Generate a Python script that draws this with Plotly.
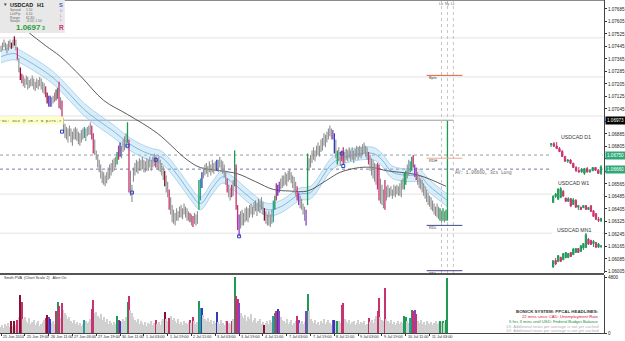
import plotly.graph_objects as go

# ------------------------------------------------------------------ data
# H1 USDCAD bars (index 0 = 25 Jun 2014 03:00), high / low prices
HIGH = [
 1.0745,1.0747,1.0749,1.0747,1.0746,1.0748,1.0749,1.0747,1.0749,1.0751,1.0749,
 1.0744,1.0737,1.0731,1.0727,1.0726,1.0724,1.0726,1.0725,1.0723,1.0724,
 1.0726,1.0724,1.0722,1.0724,1.0723,1.0725,1.0724,1.0722,1.0721,1.0719,
 1.0715,1.0713,1.0713,1.0712,1.0713,1.0715,1.0717,1.0718,1.0722,1.0712,
 1.0710,1.0699,1.0695,1.0693,1.0692,1.0694,1.0692,1.0690,1.0692,1.0693,
 1.0692,1.0690,1.0689,1.0691,1.0692,1.0693,1.0692,1.0693,1.0694,1.0696,
 1.0694,1.0689,1.0685,1.0678,1.0675,1.0672,1.0669,1.0665,1.0664,1.0662,
 1.0664,1.0667,1.0669,1.0670,1.0672,1.0673,1.0674,1.0677,1.0681,1.0683,
 1.0681,1.0685,1.0687,1.0689,1.0696,1.0685,1.0665,1.0656,1.0667,1.0670,
 1.0672,1.0671,1.0673,1.0672,1.0674,1.0672,1.0671,1.0673,1.0672,1.0674,
 1.0672,1.0674,1.0676,1.0674,1.0673,1.0674,1.0672,1.0670,1.0668,1.0665,
 1.0662,1.0658,1.0653,1.0648,1.0643,1.0640,1.0638,1.0641,1.0639,1.0642,
 1.0643,1.0641,1.0644,1.0642,1.0641,1.0639,1.0638,1.0637,1.0636,1.0638,
 1.0637,1.0639,1.0659,1.0660,1.0664,1.0667,1.0669,1.0670,1.0668,1.0671,
 1.0669,1.0672,1.0670,1.0671,1.0672,1.0672,1.0674,1.0672,1.0671,1.0669,
 1.0665,1.0660,1.0656,1.0654,1.0656,1.0659,1.0678,1.0669,1.0643,1.0637,
 1.0639,1.0640,1.0638,1.0641,1.0642,1.0641,1.0643,1.0644,1.0642,1.0645,
 1.0646,1.0644,1.0647,1.0646,1.0648,1.0645,1.0641,1.0639,1.0637,1.0639,
 1.0637,1.0640,1.0646,1.0649,1.0657,1.0656,1.0658,1.0660,1.0662,1.0662,
 1.0664,1.0663,1.0665,1.0666,1.0664,1.0662,1.0661,1.0658,1.0655,1.0651,
 1.0649,1.0647,1.0644,1.0642,1.0640,1.0676,1.0673,1.0675,1.0678,1.0680,
 1.0678,1.0681,1.0683,1.0681,1.0685,1.0686,1.0689,1.0688,1.0690,1.0692,
 1.0694,1.0692,1.0691,1.0689,1.0685,1.0678,1.0680,1.0677,1.0678,1.0680,
 1.0677,1.0679,1.0678,1.0680,1.0678,1.0680,1.0678,1.0679,1.0681,1.0680,
 1.0681,1.0680,1.0682,1.0683,1.0681,1.0680,1.0677,1.0675,1.0673,1.0672,
 1.0670,1.0669,1.0670,1.0669,1.0660,1.0656,1.0653,1.0659,1.0655,1.0656,
 1.0654,1.0655,1.0653,1.0656,1.0655,1.0656,1.0655,1.0657,1.0659,1.0660,
 1.0664,1.0665,1.0669,1.0672,1.0671,1.0674,1.0675,1.0669,1.0667,1.0664,
 1.0662,1.0660,1.0659,1.0657,1.0655,1.0653,1.0651,1.0649,1.0648,1.0646,
 1.0644,1.0642,1.0644,1.0642,1.0641,1.0639,1.0641,1.0639,1.0640,1.0697,
]
LOW = [
 1.0741,1.0742,1.0744,1.0742,1.0740,1.0742,1.0744,1.0743,1.0744,1.0745,1.0742,
 1.0736,1.0728,1.0723,1.0721,1.0719,1.0718,1.0720,1.0717,1.0718,1.0719,
 1.0719,1.0717,1.0716,1.0718,1.0717,1.0719,1.0717,1.0715,1.0714,1.0712,
 1.0708,1.0706,1.0706,1.0706,1.0708,1.0709,1.0710,1.0711,1.0705,1.0704,
 1.0696,1.0690,1.0686,1.0685,1.0683,1.0687,1.0683,1.0681,1.0685,1.0685,
 1.0684,1.0682,1.0681,1.0683,1.0685,1.0686,1.0684,1.0687,1.0688,1.0688,
 1.0685,1.0676,1.0675,1.0672,1.0667,1.0664,1.0660,1.0657,1.0656,1.0655,
 1.0657,1.0659,1.0660,1.0662,1.0664,1.0665,1.0667,1.0669,1.0672,1.0674,
 1.0673,1.0677,1.0678,1.0680,1.0683,1.0651,1.0649,1.0645,1.0658,1.0662,
 1.0664,1.0663,1.0665,1.0665,1.0666,1.0664,1.0664,1.0665,1.0665,1.0667,
 1.0665,1.0667,1.0668,1.0667,1.0666,1.0665,1.0664,1.0662,1.0659,1.0655,
 1.0651,1.0648,1.0640,1.0637,1.0632,1.0631,1.0630,1.0633,1.0633,1.0635,
 1.0635,1.0634,1.0637,1.0635,1.0633,1.0633,1.0632,1.0630,1.0629,1.0631,
 1.0630,1.0631,1.0640,1.0646,1.0654,1.0660,1.0662,1.0663,1.0661,1.0664,
 1.0662,1.0664,1.0663,1.0665,1.0665,1.0664,1.0667,1.0665,1.0663,1.0661,
 1.0656,1.0651,1.0648,1.0646,1.0648,1.0649,1.0655,1.0640,1.0627,1.0623,
 1.0628,1.0630,1.0630,1.0632,1.0633,1.0632,1.0635,1.0637,1.0635,1.0637,
 1.0639,1.0636,1.0639,1.0638,1.0640,1.0637,1.0633,1.0631,1.0630,1.0630,
 1.0629,1.0631,1.0632,1.0640,1.0646,1.0649,1.0651,1.0653,1.0654,1.0655,
 1.0656,1.0655,1.0658,1.0659,1.0657,1.0654,1.0651,1.0649,1.0646,1.0643,
 1.0641,1.0640,1.0637,1.0633,1.0630,1.0643,1.0665,1.0667,1.0670,1.0672,
 1.0671,1.0674,1.0675,1.0674,1.0677,1.0678,1.0681,1.0680,1.0683,1.0685,
 1.0687,1.0685,1.0685,1.0676,1.0673,1.0669,1.0671,1.0668,1.0671,1.0669,
 1.0670,1.0672,1.0671,1.0673,1.0671,1.0672,1.0670,1.0672,1.0674,1.0672,
 1.0674,1.0673,1.0675,1.0676,1.0674,1.0672,1.0669,1.0665,1.0662,1.0660,
 1.0658,1.0656,1.0653,1.0646,1.0644,1.0643,1.0641,1.0640,1.0646,1.0648,
 1.0648,1.0649,1.0647,1.0649,1.0648,1.0650,1.0649,1.0649,1.0648,1.0653,
 1.0653,1.0656,1.0660,1.0662,1.0664,1.0665,1.0667,1.0661,1.0659,1.0656,
 1.0654,1.0653,1.0651,1.0649,1.0647,1.0645,1.0643,1.0642,1.0640,1.0639,
 1.0637,1.0636,1.0635,1.0634,1.0633,1.0632,1.0633,1.0632,1.0633,1.0633,
]
VOLUME = [
 520,690,430,770,600,860,520,1030,600,1030,690,1120,1380,3270,2670,
 1200,1380,1030,860,1290,770,950,1120,690,860,1030,600,770,950,1120,
 1290,1550,1380,1200,860,1030,770,1890,2670,2320,1290,2580,
 1980,1720,1550,1200,1380,1030,860,1120,770,950,690,860,600,770,
 1120,1030,860,950,1200,2060,2840,1720,
 1810,1460,1290,1630,1120,1380,950,1200,770,1030,860,690,950,770,
 1460,1120,1030,950,1200,1030,1380,2670,3180,1980,1720,
 1380,1120,950,1200,770,1030,860,690,950,600,860,770,1030,690,860,
 1120,770,950,690,1030,1200,1810,1200,1030,1290,
 1460,1120,1290,1030,860,1200,770,950,690,1030,860,770,950,
 1120,860,1380,1030,770,950,2750,2150,2150,
 1550,1200,1030,1290,950,1120,770,1030,860,
 1810,950,770,1120,860,690,1030,1030,860,770,1030,1200,4820,3180,2920,2580,
 1720,1460,1290,1550,1030,1380,1200,1630,950,1120,1290,860,1030,1200,770,950,
 690,860,1030,770,1120,950,
 1460,1720,1890,2060,1890,1380,1120,
 1030,860,1200,770,950,1120,690,860,1030,
 1460,1120,860,1030,770,950,1890,3350,1890,
 1200,1030,860,1120,770,950,690,1030,860,1200,770,950,1120,860,690,
 1120,1120,1030,1030,1030,860,2410,2580,
 1200,1030,860,1120,770,950,1030,690,860,1120,770,950,860,1030,690,770,
 1290,950,1120,860,1200,1460,1890,3010,1380,1120,1030,3870,
 1200,1030,860,1120,770,950,690,860,1030,770,950,860,
 1460,1380,1030,860,1290,1980,1890,1980,1630,
 1030,860,1120,770,950,690,1030,860,770,950,690,860,1030,770,950,
 1030,950,1030,860,1120,4730,
]
# Volume-spread colour classes (bar indices)
GREEN_BARS = [38, 78, 85, 133, 157, 184, 206, 226, 271, 272, 276, 295, 297, 299, 300]
CRIMSON_BARS = [11, 14, 30, 37, 39, 41, 61, 62, 79, 86, 104, 113, 127, 129, 152, 155,
                158, 159, 185, 199, 229, 230, 247, 253, 254, 258, 277, 279]
DARKRED_BARS = [7, 9, 13, 31, 110, 177]
BLUE_BARS = [33, 80, 135, 145, 186, 224]
PURPLE_BARS = [32, 160, 187, 200, 205, 223, 278]
TEAL_BARS = [56, 134, 183, 275]

# swing markers
MARK_IDX = [41, 85, 88, 104, 160, 229, 230]
MARK_PRICE = [1.0690, 1.0681, 1.0651, 1.0672, 1.0623, 1.0676, 1.0668]

# slow moving average
MA_IDX = [10, 18, 30, 40, 54, 69, 85, 105, 125, 134, 147, 159, 171, 183, 194, 206,
          219, 228, 241, 250, 259, 268, 281, 299]
MA_VAL = [1.0761, 1.0754, 1.0745, 1.0738, 1.0725, 1.0710, 1.0701, 1.0689, 1.0672, 1.0667,
          1.0665, 1.0663, 1.0658, 1.0653, 1.0652, 1.0652, 1.0659, 1.0664, 1.0667, 1.0667,
          1.0665, 1.0664, 1.0662, 1.0655]

# channel (centre line)
BAND_IDX = [0, 9, 13, 22, 33, 40, 47, 56, 67, 76, 85, 94, 102, 107, 112, 121, 127, 134,
            142, 149, 156, 167, 179, 188, 201, 208, 223, 232, 250, 256, 263, 275, 281, 288, 300]
BAND_MID = [1.0738, 1.0740, 1.0738, 1.0733, 1.0726, 1.0720, 1.0713, 1.0704, 1.0696, 1.0690,
            1.0683, 1.0678, 1.0675, 1.0674, 1.0670, 1.0659, 1.0651, 1.0644, 1.0654, 1.0661,
            1.0657, 1.0648, 1.0640, 1.0642, 1.0650, 1.0651, 1.0670, 1.0674, 1.0676, 1.0672,
            1.0664, 1.0662, 1.0662, 1.0655, 1.0646]
BAND_HALF = 0.0004

X_LABELS = ["25 Jun 2014", "25 Jun 19:00", "26 Jun 11:00", "27 Jun 03:00", "27 Jun 19:00",
            "30 Jun 11:00", "1 Jul 03:00", "1 Jul 19:00", "2 Jul 11:00", "3 Jul 03:00",
            "3 Jul 19:00", "4 Jul 11:00", "7 Jul 03:00", "7 Jul 19:00", "8 Jul 11:00",
            "9 Jul 03:00", "9 Jul 19:00", "10 Jul 11:00", "11 Jul 03:00"]
LABEL_EVERY = 16
PRICE_TICKS = [1.06005, 1.06085, 1.06165, 1.06245, 1.06325, 1.06405, 1.06485, 1.06565,
               1.06645, 1.06725, 1.06805, 1.06885, 1.06965, 1.07045, 1.07125, 1.07205,
               1.07285, 1.07365, 1.07445, 1.07525, 1.07605, 1.07685]
HIDDEN_TICKS = [1.06645, 1.06725, 1.06965]   # covered by the marker boxes
VOL_TICKS = [0, 4800]

BID = 1.06973
LEVELS = [1.0750, 1.0725, 1.0700, 1.0650, 1.0625]
DOT_LEVELS = [1.06750, 1.06660]
SEG_NAMES = ["Bpts", "RDH", "RDL", "RNL"]
SEG_PRICES = [1.0726, 1.0673, 1.0630, 1.0601]
SEG_COLORS = ["#e0603a", "#eea78c", "#3c4a8c", "#4a4090"]
SEG_FROM, SEG_TO = 286, 310
SESSION_IDX = [296, 300, 304]
SESSION_NAMES = ["Lo", "Ny", "Lc"]

# higher time-frame mini charts (open, high, low, close)
D1_O = [1.0905,1.0915,1.0892,1.0868,1.0842,1.0795,1.0750,1.0760,1.0730,1.0690,1.0660,1.0650,1.0635,1.0680,1.0650,1.0660,1.0690,1.0665,1.0635]
D1_H = [1.0921,1.0930,1.0930,1.0883,1.0855,1.0798,1.0770,1.0770,1.0733,1.0704,1.0695,1.0686,1.0686,1.0695,1.0676,1.0695,1.0695,1.0676,1.0714]
D1_L = [1.0883,1.0883,1.0864,1.0836,1.0789,1.0742,1.0733,1.0723,1.0686,1.0648,1.0639,1.0639,1.0620,1.0639,1.0639,1.0657,1.0657,1.0629,1.0620]
D1_C = [1.0915,1.0890,1.0868,1.0840,1.0795,1.0750,1.0760,1.0730,1.0690,1.0660,1.0650,1.0675,1.0680,1.0650,1.0665,1.0690,1.0665,1.0635,1.0697]
W1_O = [1.0990,1.1100,1.1050,1.1080,1.1200,1.1073,1.1010,1.1060,1.0950,1.1030,1.0900,1.0900,1.0890,1.0930,1.0855,1.0925,1.0830,1.0775,1.0670,1.0640]
W1_H = [1.1129,1.1167,1.1261,1.1280,1.1223,1.1073,1.1091,1.1073,1.1073,1.1050,1.0940,1.0903,1.0940,1.0940,1.0903,1.0940,1.0846,1.0790,1.0714,1.0695]
W1_L = [1.0978,1.1073,1.1035,1.1073,1.1091,1.0997,1.0997,1.0903,1.0940,1.0884,1.0846,1.0846,1.0884,1.0846,1.0846,1.0809,1.0714,1.0658,1.0620,1.0620]
W1_C = [1.1100,1.1150,1.1240,1.1250,1.1110,1.1010,1.1060,1.0920,1.1040,1.0900,1.0930,1.0855,1.0930,1.0860,1.0895,1.0820,1.0725,1.0670,1.0650,1.0690]
MN_O = [0.9750,1.0040,0.9990,1.0190,1.0070,1.0160,1.0170,1.0400,1.0300,1.0400,1.0580,1.0450,1.0600,1.0620,1.1000,1.0950,1.0800,1.0850,1.0640,1.0670]
MN_H = [1.0061,1.0152,1.0287,1.0197,1.0377,1.0422,1.0377,1.0422,1.0603,1.0603,1.0603,1.0738,1.0829,1.1280,1.1054,1.0964,1.0964,1.0874,1.0829,1.0738]
MN_L = [0.9700,0.9836,0.9971,0.9971,1.0061,1.0152,1.0152,1.0197,1.0287,1.0377,1.0377,1.0422,1.0513,1.0603,1.0738,1.0738,1.0648,1.0603,1.0603,1.0603]
MN_C = [1.0030,0.9880,1.0260,1.0000,1.0350,1.0400,1.0350,1.0220,1.0560,1.0580,1.0400,1.0700,1.0800,1.1200,1.0780,1.0760,1.0900,1.0640,1.0780,1.0697]

# ------------------------------------------------------------------ geometry helpers (layout only)
W_PLOT, H_PLOT = 606, 333


def px(xp):
    return xp / W_PLOT


def py(yp):
    return (H_PLOT - yp) / H_PLOT


GREEN = "#1f9a55"
CRIMSON = "#c8336f"
DARKRED = "#8a1030"
BLUE = "#2a3fbf"
PURPLE = "#8a3fc8"
TEAL = "#2a9d9d"
CANDLE_GRAY = "#8e8e8e"
VOL_GRAY = "#d0d0d0"
FONT = "Liberation Sans"
MONO = "Liberation Mono"

N = min(len(HIGH), len(LOW), len(VOLUME))
cls = {}
for lst, col in [(GREEN_BARS, GREEN), (CRIMSON_BARS, CRIMSON), (DARKRED_BARS, DARKRED),
                 (BLUE_BARS, BLUE), (PURPLE_BARS, PURPLE), (TEAL_BARS, TEAL)]:
    for i in lst:
        cls[i] = col

fig = go.Figure()

# channel
upper = [m + BAND_HALF for m in BAND_MID]
lower = [m - BAND_HALF for m in BAND_MID]
fig.add_trace(go.Scatter(x=BAND_IDX, y=upper, mode="lines", line=dict(color="#9ccbec", width=0.8, shape="spline"),
                         hoverinfo="skip", showlegend=False))
fig.add_trace(go.Scatter(x=BAND_IDX, y=lower, mode="lines", line=dict(color="#9ccbec", width=0.8, shape="spline"),
                         fill="tonexty", fillcolor="rgba(150,205,240,0.35)", hoverinfo="skip", showlegend=False))
fig.add_trace(go.Scatter(x=BAND_IDX, y=BAND_MID, mode="lines", line=dict(color="#5a9fd8", width=0.7, shape="spline"),
                         hoverinfo="skip", showlegend=False))
# moving average
fig.add_trace(go.Scatter(x=MA_IDX, y=MA_VAL, mode="lines", line=dict(color="#333333", width=0.8, shape="spline"),
                         hoverinfo="skip", showlegend=False))


def wicks(idx):
    xs, ys = [], []
    for i in idx:
        xs += [i, i, None]
        ys += [LOW[i], HIGH[i], None]
    return xs, ys


groups = {}
for i in range(N):
    groups.setdefault(cls.get(i, CANDLE_GRAY), []).append(i)
for col in [CANDLE_GRAY, GREEN, CRIMSON, DARKRED, BLUE, PURPLE, TEAL]:
    if col in groups:
        xs, ys = wicks(groups[col])
        fig.add_trace(go.Scatter(x=xs, y=ys, mode="lines",
                                 line=dict(color=col, width=1.1 if col == CANDLE_GRAY else 1.3),
                                 hoverinfo="skip", showlegend=False))

# swing markers
fig.add_trace(go.Scatter(x=MARK_IDX, y=MARK_PRICE, mode="markers",
                         marker=dict(symbol="square-open", size=3, color="#2b45c4", line=dict(width=1)),
                         hoverinfo="skip", showlegend=False))

# volume histogram
fig.add_trace(go.Bar(x=list(range(N)), y=VOLUME[:N], yaxis="y2",
                     marker=dict(color=[cls.get(i, VOL_GRAY) for i in range(N)], line=dict(width=0)),
                     width=0.66, hoverinfo="skip", showlegend=False))

# mini charts
for (o, h, l, c, xa, ya) in [(D1_O, D1_H, D1_L, D1_C, "x2", "y3"),
                              (W1_O, W1_H, W1_L, W1_C, "x3", "y4"),
                              (MN_O, MN_H, MN_L, MN_C, "x4", "y5")]:
    fig.add_trace(go.Candlestick(x=list(range(len(o))), open=o, high=h, low=l, close=c,
                                 xaxis=xa, yaxis=ya, whiskerwidth=0,
                                 increasing=dict(line=dict(color=GREEN, width=1), fillcolor=GREEN),
                                 decreasing=dict(line=dict(color=CRIMSON, width=1), fillcolor=CRIMSON),
                                 hoverinfo="skip", showlegend=False))

shapes = []
# faint round-number levels
for lv in LEVELS:
    shapes.append(dict(type="line", xref="paper", x0=0, x1=1, yref="y", y0=lv, y1=lv,
                       line=dict(color="#e2e2e2", width=1), layer="below"))
# bid line
shapes.append(dict(type="line", xref="x", x0=-1, x1=N + 3, yref="y", y0=BID, y1=BID,
                   line=dict(color="#9a9a9a", width=1), layer="below"))
# dotted levels
shapes.append(dict(type="line", xref="paper", x0=0, x1=1, yref="y", y0=DOT_LEVELS[0], y1=DOT_LEVELS[0],
                   line=dict(color="#8fa39a", width=1, dash="dot"), layer="below"))
shapes.append(dict(type="line", xref="paper", x0=0, x1=1, yref="y", y0=DOT_LEVELS[1], y1=DOT_LEVELS[1],
                   line=dict(color="#7a78a8", width=1, dash="dot"), layer="below"))
# session lines
for s in SESSION_IDX:
    shapes.append(dict(type="line", xref="x", x0=s, x1=s, yref="y", y0=1.05995, y1=1.07742,
                       line=dict(color="#c4c4c4", width=1, dash="dot"), layer="below"))
# daily range segments
for p, col in zip(SEG_PRICES, SEG_COLORS):
    shapes.append(dict(type="line", xref="x", x0=SEG_FROM, x1=SEG_TO, yref="y", y0=p, y1=p,
                       line=dict(color=col, width=1)))
# separator between panels
shapes.append(dict(type="rect", xref="paper", x0=0, x1=1, yref="paper", y0=py(275), y1=py(273),
                   fillcolor="#555555", line=dict(width=0)))
# top border
shapes.append(dict(type="line", xref="paper", x0=0, x1=1, yref="paper", y0=py(0.5), y1=py(0.5),
                   line=dict(color="#8a8a8a", width=1)))
# info panel
shapes.append(dict(type="rect", xref="paper", x0=0, x1=px(65), yref="paper", y0=py(33), y1=py(0),
                   fillcolor="#e8e8e8", line=dict(width=0), layer="above"))

ann = []


def txt(x, y, t, size=5, color="#333", bold=False, anchor="left", family=FONT, xref="paper", yref="paper", **kw):
    if bold:
        t = "<b>" + t + "</b>"
    ann.append(dict(x=x, y=y, xref=xref, yref=yref, text=t, showarrow=False, xanchor=anchor,
                    yanchor="middle", font=dict(size=size, color=color, family=family), **kw))


# x-axis labels
for k, lab in enumerate(X_LABELS):
    txt(k * LABEL_EVERY, py(337), lab, size=3.8, color="#222", xref="x")
# session labels
for s, nm in zip(SESSION_IDX, SESSION_NAMES):
    txt(s, py(4), nm, size=3.6, color="#666", xref="x", anchor="center")
# range segment labels
for nm, p in zip(SEG_NAMES, SEG_PRICES):
    txt(SEG_FROM, p, nm, size=3.8, color="#444", xref="x", yref="y", yshift=-3)
# price-axis boxes
txt(1.0, BID, "1.06973", size=4.6, color="#ffffff", yref="y", bgcolor="#000000", borderpad=1, xshift=1)
txt(1.0, DOT_LEVELS[0], "1.06750", size=4.6, color="#ffffff", yref="y", bgcolor="#2fa87a", borderpad=1, xshift=1)
txt(1.0, DOT_LEVELS[1], "1.06660", size=4.6, color="#ffffff", yref="y", bgcolor="#2fa87a", borderpad=1, xshift=1)
# chart texts
txt(px(0), BID - 0.00003, "D1: ocx @ 20.7 = p27s.7", size=4.3, color="#555", yref="y", family=MONO,
    bgcolor="#ffffc8")
txt(px(455), 1.06640, "AV: 1.06660, 3cs Long", size=4.5, color="#666", family=MONO, yref="y")
txt(px(578), py(137), "USDCAD D1", size=5.2, color="#333", anchor="center")
txt(px(575), py(183), "USDCAD W1", size=5.2, color="#333", anchor="center")
txt(px(576), py(229.5), "USDCAD MN1", size=5.2, color="#333", anchor="center")
# info panel text
txt(px(2), py(5), "▾", size=4.5, color="#333")
txt(px(8), py(5), "USDCAD", size=5.4, color="#111", bold=True)
txt(px(35), py(5), "H1", size=5.4, color="#111", bold=True)
txt(px(57), py(5), "S", size=5.8, color="#4a5ac0", bold=True)
for yy, a, b in [(10, "Spread", "1.50"), (13.8, "Lot/Pip", "0.10"), (17.6, "Range", "61.80"), (21.4, "Swaps", "-3.50, 1.50")]:
    txt(px(8), py(yy), a, size=3.3, color="#666")
    txt(px(24), py(yy), b, size=3.3, color="#666")
for yy, l, col in [(11, "D", "#8c8cd0"), (15.5, "L", "#e07090"), (20, "L", "#e07090")]:
    txt(px(58), py(yy), l, size=3.4, color=col)
txt(px(14), py(27.5), "1.0697", size=8, color="#2d9a3a", bold=True)
txt(px(40.5), py(28), "3", size=5, color="#2d9a3a", bold=True)
txt(px(57), py(27.5), "R", size=6.5, color="#c8336f", bold=True)
# volume panel texts
txt(px(2), py(277.5), "Smith PVA  (Chart Scale 2)   Alert On", size=3.8, color="#333")
txt(px(603), py(311), "BONICK SYSTEM: PPCAL HEADLINES:", size=4.4, color="#333", bold=True, anchor="right")
txt(px(603), py(316.5), "22 mins since CAD: Unemployment Rate", size=4.2, color="#d02040", anchor="right")
txt(px(603), py(321.5), "5 hrs 3 mins until USD: Federal Budget Balance", size=4.2, color="#208a40", anchor="right")
txt(px(603), py(326.5), "1X: Additional news per average is not yet cached", size=4.2, color="#b0b0b0", anchor="right")
txt(px(603), py(330.5), "1X: Additional news per average is not yet cached", size=4.2, color="#b0b0b0", anchor="right")

mini_x = dict(visible=False, showgrid=False, zeroline=False, fixedrange=True,
              rangeslider=dict(visible=False))
mini_y = dict(visible=False, showgrid=False, zeroline=False, fixedrange=True)

fig.update_layout(
    width=625, height=341,
    margin=dict(l=0, r=19, t=0, b=8, pad=0),
    paper_bgcolor="white", plot_bgcolor="white",
    showlegend=False, bargap=0,
    font=dict(family=FONT, size=5, color="#222"),
    xaxis=dict(domain=[0, 1], range=[-0.67, 405.2], anchor="y2", showgrid=False, zeroline=False,
               showticklabels=False, ticks="outside", ticklen=2, tickcolor="#333",
               tickvals=[k * LABEL_EVERY for k in range(len(X_LABELS))],
               showline=True, linecolor="#444", linewidth=1, rangeslider=dict(visible=False)),
    yaxis=dict(domain=[py(273), 1], range=[1.059952, 1.077424], side="right", anchor="x",
               showgrid=False, zeroline=False, tickvals=PRICE_TICKS,
               ticktext=["" if v in HIDDEN_TICKS else f"{v:.5f}" for v in PRICE_TICKS],
               ticks="outside", ticklen=2,
               tickcolor="#333", tickfont=dict(size=4.6, color="#222", family=FONT),
               showline=True, linecolor="#444", linewidth=1),
    yaxis2=dict(domain=[0, py(275)], range=[0, 4971], side="right", anchor="x",
                showgrid=False, zeroline=False, tickvals=VOL_TICKS, ticktext=[str(v) for v in VOL_TICKS],
                ticks="outside", ticklen=2, tickcolor="#333",
                tickfont=dict(size=4.6, color="#222", family=FONT),
                showline=True, linecolor="#444", linewidth=1),
    xaxis2=dict(domain=[px(551.6), px(604.4)], range=[-0.5, len(D1_O) - 0.5], anchor="y3", **mini_x),
    yaxis3=dict(domain=[py(175.5), py(141.5)], range=[1.0615, 1.0935], anchor="x2", **mini_y),
    xaxis3=dict(domain=[px(553.7), px(604.3)], range=[-0.5, len(W1_O) - 0.5], anchor="y4", **mini_x),
    yaxis4=dict(domain=[py(222.5), py(186.5)], range=[1.0610, 1.1290], anchor="x3", **mini_y),
    xaxis4=dict(domain=[px(553.7), px(604.3)], range=[-0.5, len(MN_O) - 0.5], anchor="y5", **mini_x),
    yaxis5=dict(domain=[py(268.5), py(232.5)], range=[0.9680, 1.1300], anchor="x4", **mini_y),
    shapes=shapes,
    annotations=ann,
)

fig.write_html("out.html")
